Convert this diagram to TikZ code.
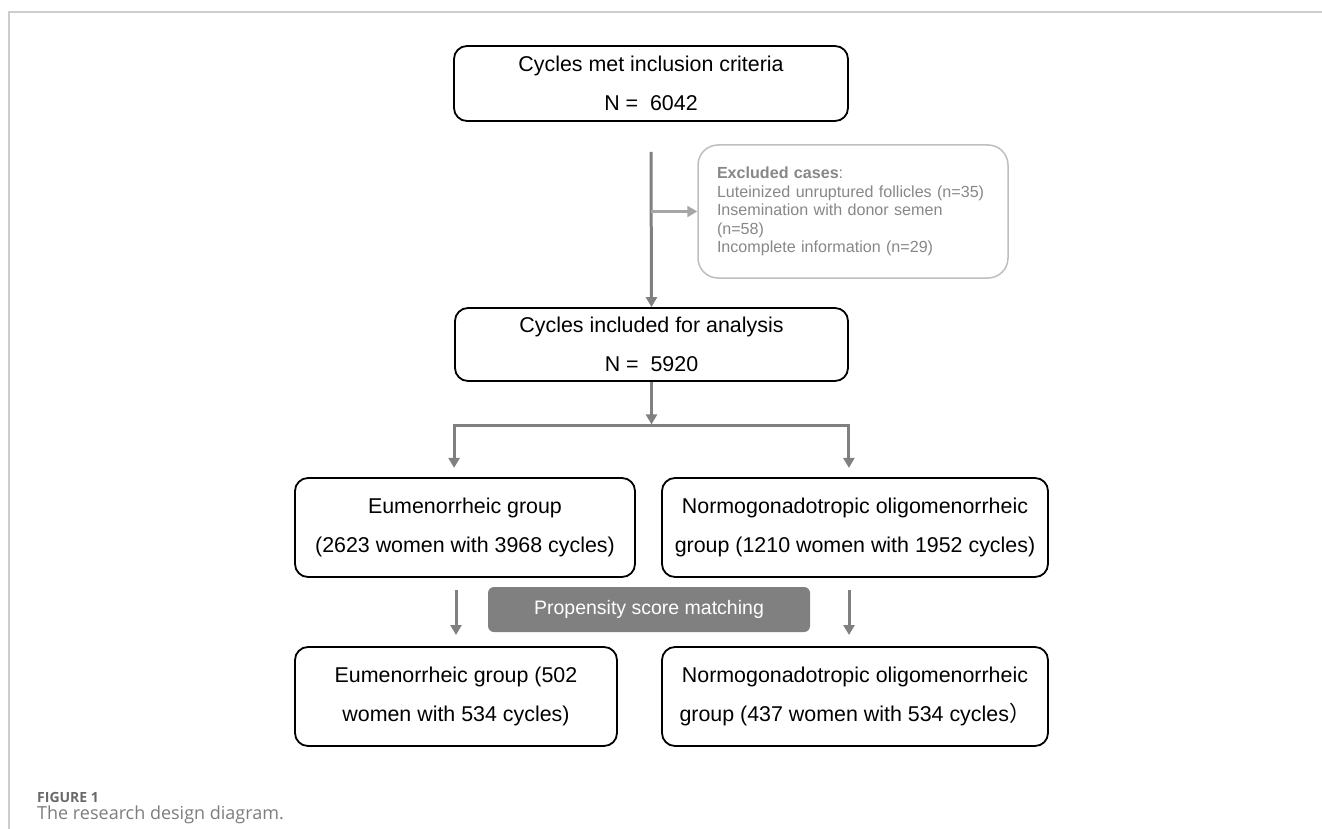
\documentclass[tikz,border=0pt]{standalone}
\usepackage{fontspec}
\setmainfont{Liberation Sans}
\newfontfamily\capfont{Open Sans}
\newfontfamily\cjk{Noto Sans CJK SC}
\usetikzlibrary{arrows.meta, positioning}
\definecolor{flowgray}{RGB}{128,128,128}
\definecolor{exclarrow}{RGB}{166,166,166}
\definecolor{exclline}{RGB}{190,190,190}
\definecolor{excltext}{RGB}{135,135,135}
\definecolor{framegray}{RGB}{205,205,205}
\definecolor{figgray}{RGB}{105,105,105}
\definecolor{capgray}{RGB}{125,125,125}

\begin{document}
\begin{tikzpicture}[x=1pt, y=-1pt]
				\tikzset {>={Triangle[length=10pt, width=11pt]}, 
					box/.style={draw, line width=1.8pt, rounded corners=13pt, align=center, inner sep=0pt, font=\fontsize{21.4}{39}\selectfont, execute at begin node={\rule{0pt}{26pt}}},
					exclbox/.style={draw=exclline, line width=1.5pt, rounded corners=20pt, text=excltext, align=left, text width=272pt, inner xsep=19pt, minimum height=133pt, font=\fontsize{16.1}{18.6}\selectfont},
					psmbox/.style={fill=flowgray, text=white, rounded corners=6pt, minimum width=322pt, minimum height=45pt, inner sep=0pt, font=\fontsize{19.5}{22}\selectfont},
					flow/.style={->, draw=flowgray, line width=3pt},
					side/.style={->, draw=exclarrow, line width=2.5pt},
					caption/.style={anchor=base west, inner sep=0pt} }
					\useasboundingbox (0,0) rectangle (1322,829);
					\draw[framegray, line width=1.5pt] (9,829) -- (9,12) -- (1322,12);
					
					\node[box, minimum width=394pt, minimum height=75pt] (incl) at (651,83.5) {Cycles met inclusion criteria\\N = \ 6042};
					\node[exclbox] (excl) at (853,211.5) {\textbf{Excluded cases}:\\Luteinized unruptured follicles (n=35)\\Insemination with donor semen\\(n=58)\\Incomplete information (n=29)};
					\node[box, minimum width=393pt, minimum height=73pt] (anal) at (651.5,344.5) {Cycles included for analysis\\N = \ 5920};
					\node[box, minimum width=340pt, minimum height=99pt] (eum) at (465,527.5) {Eumenorrheic group\\(2623 women with 3968 cycles)};
					\node[box, minimum width=386pt, minimum height=99pt] (nog) at (855,527.5) {Normogonadotropic oligomenorrheic\\group (1210 women with 1952 cycles)};
					\node[psmbox] (psm) at (649,609.5) {Propensity score matching};
					\node[box, minimum width=322pt, minimum height=99pt] (eumPsm) at (456,696.5) {Eumenorrheic group (502\\women with 534 cycles)};
					\node[box, minimum width=386pt, minimum height=99pt] (nogPsm) at (855,696.5) {Normogonadotropic oligomenorrheic\\group (437 women with 534 cycles{\cjk ）}};
					
					\coordinate[below=30pt of incl.south] (s1);
					\coordinate[below=44pt of anal.south] (bar);
					\coordinate[below=86pt of anal.south west] (l1);
					\coordinate[below=86pt of anal.south east] (r1);
					\coordinate (l2) at (456,590);
					\coordinate (l3) at (456,635);
					\coordinate (r2) at (849,590);
					\coordinate (r3) at (849,635);
					
					\draw[flow] (s1) -- (anal.north);
					\draw[side] (s1 |- excl.west) -- (excl.west);
					\draw[flow, shorten >=1.5pt] (anal.south) -- (bar);
					\draw[flow] (bar) -| (l1);
					\draw[flow] (bar) -| (r1);
					\draw[flow] (l2) -- (l3);
					\draw[flow] (r2) -- (r3);
					
					\node[caption, text=figgray, font=\capfont\bfseries\fontsize{14}{16}\selectfont] (fig) at (37,802) {FIGURE 1};
					\node[caption, text=capgray, font=\capfont\fontsize{18}{20}\selectfont] (cap) at (37,819) {The research design diagram.};
			\end{tikzpicture}
\end{document}
